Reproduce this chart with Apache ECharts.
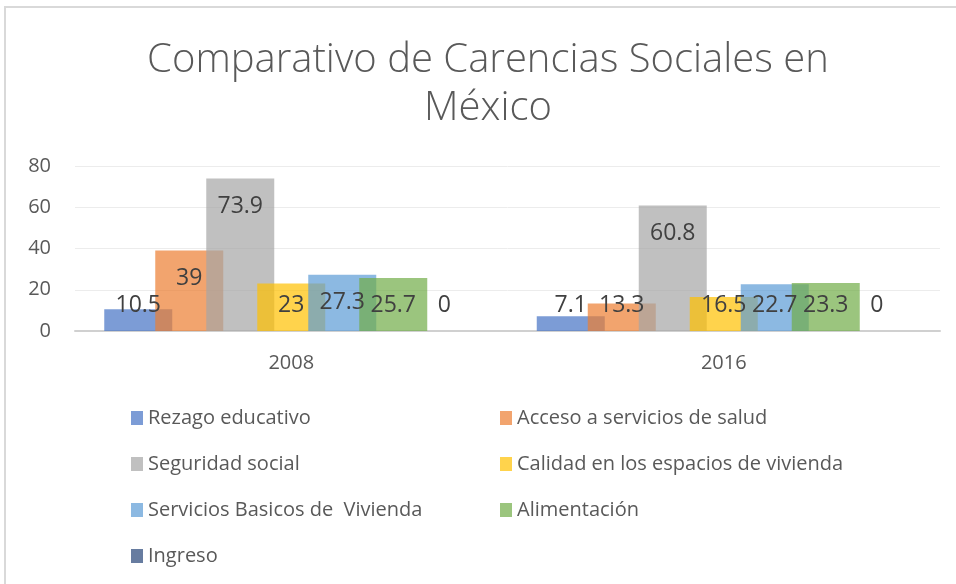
<!DOCTYPE html>
<html>
<head>
<meta charset="utf-8">
<script src="https://cdn.jsdelivr.net/npm/echarts@6/dist/echarts.min.js"></script>
<style>
  html, body { margin: 0; padding: 0; background: #fff; overflow: hidden; }
  #chart { width: 956px; height: 584px; }
</style>
</head>
<body>
<div id="chart"></div>
<script>
const years = ['2008', '2016']
const seriesNames = [
  'Rezago educativo',
  'Acceso a servicios de salud',
  'Seguridad social',
  'Calidad en los espacios de vivienda',
  'Servicios Basicos de  Vivienda',
  'Alimentación',
  'Ingreso'
]
const rezago = [10.5, 7.1]
const salud = [39, 13.3]
const seguridad = [73.9, 60.8]
const calidad = [23, 16.5]
const servicios = [27.3, 22.7]
const alimentacion = [25.7, 23.3]
const ingreso = [0, 0]
const yTicks = [0, 20, 40, 60, 80]

const values = [rezago, salud, seguridad, calidad, servicios, alimentacion, ingreso]
// office palette at 70% opacity
const colors = [
  'rgba(68,114,196,0.7)', 'rgba(237,125,49,0.7)', 'rgba(165,165,165,0.7)',
  'rgba(255,192,0,0.7)', 'rgba(91,155,213,0.7)', 'rgba(112,173,71,0.7)',
  'rgba(38,68,120,0.7)'
]

const font = "'Liberation Sans Narrow', 'Open Sans', sans-serif"
const gridTop = 166
const gridBottom = 253
// px per unit on the value axis, used to place labels like Excel does
const ppu = (584 - gridTop - gridBottom) / yTicks[yTicks.length - 1]

const chart = echarts.init(document.getElementById('chart'))

const series = seriesNames.map((name, i) => ({
  name: name,
  type: 'bar',
  barWidth: 68,
  barGap: '-25%',
  itemStyle: { color: colors[i] },
  label: {
    show: true,
    align: 'center',
    verticalAlign: 'middle',
    color: '#404040',
    fontSize: 23,
    fontFamily: "'Open Sans', sans-serif"
  },
  data: values[i].map(v => ({
    value: v,
    label: { position: ['50%', Math.min(28, v * ppu - 26)] }
  }))
}))

const legendText = { color: '#595959', fontSize: 20, lineHeight: 20, fontFamily: font }

chart.setOption({
  animation: false,
  title: {
    text: 'Comparativo de Carencias Sociales en\nMéxico',
    left: 483,
    textAlign: 'center',
    top: 32,
    textStyle: {
      color: '#595959',
      fontSize: 40,
      fontWeight: 300,
      lineHeight: 48,
      fontFamily: font
    }
  },
  graphic: [{
    type: 'rect',
    shape: { x: 5, y: 7, width: 1200, height: 1200 },
    style: { fill: 'none', stroke: '#d9d9d9', lineWidth: 2 },
    silent: true
  }],
  legend: [{
    orient: 'vertical',
    left: 126,
    top: 403,
    itemWidth: 12,
    itemHeight: 14,
    itemGap: 26,
    icon: 'rect',
    data: [seriesNames[0], seriesNames[2], seriesNames[4], seriesNames[6]],
    textStyle: legendText
  }, {
    orient: 'vertical',
    left: 495,
    top: 403,
    itemWidth: 12,
    itemHeight: 14,
    itemGap: 26,
    icon: 'rect',
    data: [seriesNames[1], seriesNames[3], seriesNames[5]],
    textStyle: legendText
  }],
  grid: { left: 75, right: 16, top: gridTop, bottom: gridBottom },
  xAxis: {
    type: 'category',
    data: years,
    axisTick: { show: false },
    axisLine: { lineStyle: { color: '#d0d0d0', width: 2 } },
    axisLabel: { color: '#595959', fontSize: 20, margin: 22, fontFamily: font }
  },
  yAxis: {
    type: 'value',
    min: 0,
    max: 80,
    interval: 20,
    axisLine: { show: false },
    axisTick: { show: false },
    axisLabel: { color: '#595959', fontSize: 20, margin: 24, fontFamily: font },
    splitLine: { lineStyle: { color: '#ececec', width: 1 } }
  },
  series: series
})
</script>
</body>
</html>
